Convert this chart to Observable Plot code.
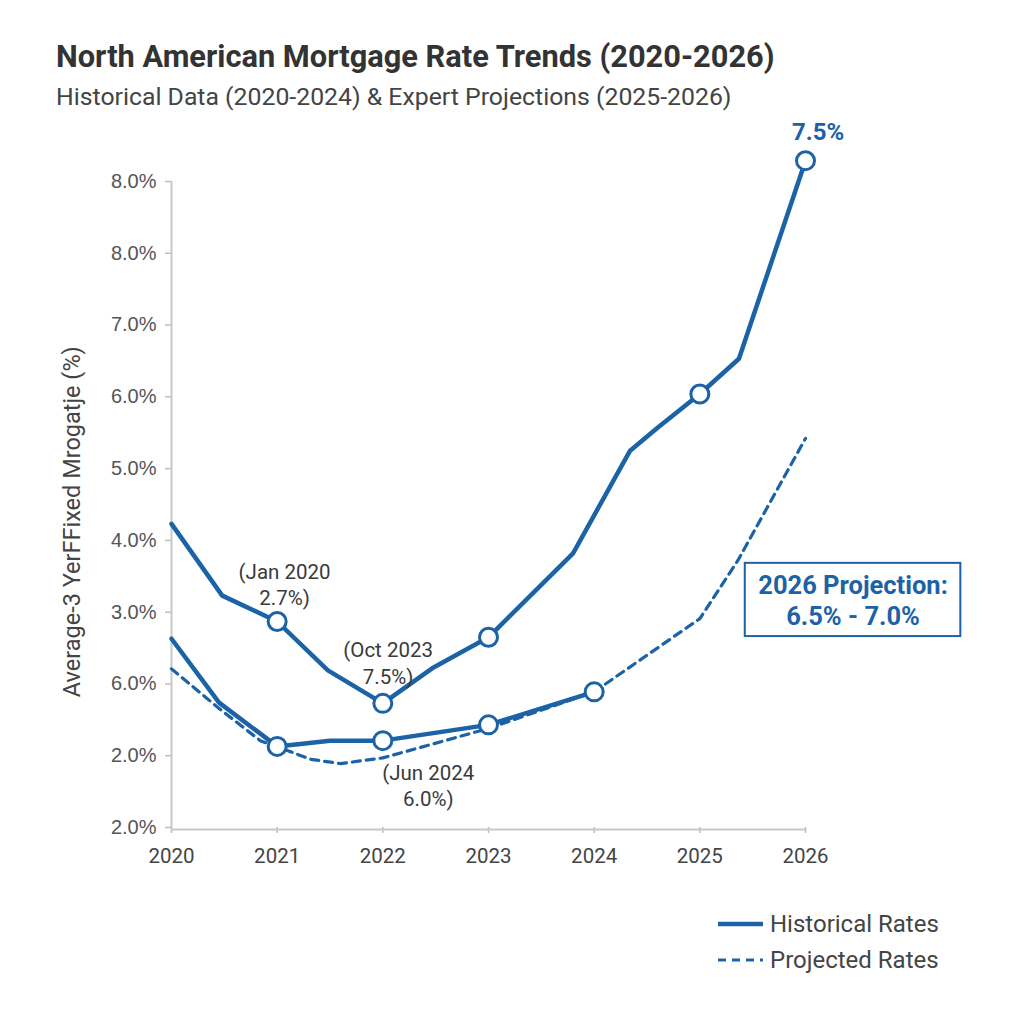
<!DOCTYPE html>
<html>
<head>
<meta charset="utf-8">
<script src="https://cdn.jsdelivr.net/npm/d3@7"></script>
<script src="https://cdn.jsdelivr.net/npm/@observablehq/plot@0.6"></script>
<style>
  html, body { margin: 0; padding: 0; background: #fff; }
  body { width: 1024px; height: 1024px; position: relative; overflow: hidden; font-family: Roboto, "Noto Sans", sans-serif; }
  #title { position: absolute; left: 56px; top: 42px; font-size: 30.8px; line-height: 1; font-weight: 700; color: #333; white-space: nowrap; }
  #subtitle { position: absolute; left: 56px; top: 85px; font-size: 24.8px; line-height: 1; color: #444; white-space: nowrap; }
  #chart { position: absolute; left: 0; top: 120px; }
  #legend { position: absolute; left: 716px; top: 906px; font-size: 24px; color: #444; }
  #legend .row { display: flex; align-items: center; height: 36px; }
  #legend svg { margin-right: 6px; }
</style>
</head>
<body>
<div id="title">North American Mortgage Rate Trends (2020-2026)</div>
<div id="subtitle">Historical Data (2020-2024) &amp; Expert Projections (2025-2026)</div>
<div id="chart"></div>
<div id="legend"></div>
<script>
// Axis ticks and their printed labels (bottom to top)
const years = [2020, 2021, 2022, 2023, 2024, 2025, 2026];
const yTicks = [0, 1, 2, 3, 4, 5, 6, 7, 8, 9];
const yLabels = ["2.0%", "2.0%", "6.0%", "3.0%", "4.0%", "5.0%", "6.0%", "7.0%", "8.0%", "8.0%"];

// Upper solid series
const upperYears = [2020, 2020.48, 2021, 2021.48, 2022, 2022.48, 2023, 2023.8, 2024.34, 2024.6, 2025, 2025.37, 2026];
const upperRates = [4.23, 3.23, 2.87, 2.19, 1.73, 2.23, 2.65, 3.82, 5.25, 5.57, 6.04, 6.53, 9.29];
const upperMarked = [2021, 2022, 2023, 2025, 2026];

// Lower solid series
const lowerYears = [2020, 2020.45, 2021, 2021.5, 2022, 2023, 2024];
const lowerRates = [2.63, 1.74, 1.13, 1.21, 1.21, 1.43, 1.89];
const lowerMarked = [2021, 2022, 2023, 2024];

// Projected (dashed) series
const projYears = [2020, 2020.44, 2020.84, 2021.32, 2021.6, 2022, 2023, 2024, 2025, 2025.36, 2026];
const projRates = [2.21, 1.67, 1.21, 0.95, 0.89, 0.97, 1.38, 1.89, 2.91, 3.72, 5.42];

// Callouts
const noteText = ["(Jan 2020\n2.7%)", "(Oct 2023\n7.5%)", "(Jun 2024\n6.0%)"];
const noteYears = [2021.07, 2022.05, 2022.43];
const noteRates = [3.40, 2.31, 0.60];

const peakLabel = "7.5%";
const peakYear = 2026.12;
const peakRate = 9.69;

const boxText = "2026 Projection:\n6.5% - 7.0%";
const boxYears = [2025.43, 2027.47];
const boxRates = [2.66, 3.68];

const axisTitle = "Average-3 YerFFixed Mrogatje (%)";

const blue = "#1c62a6";

const upper = upperYears.map((x, i) => ({x, y: upperRates[i]}));
const lower = lowerYears.map((x, i) => ({x, y: lowerRates[i]}));
const proj = projYears.map((x, i) => ({x, y: projRates[i]}));
const dots = [
  ...upper.filter(d => upperMarked.includes(d.x)),
  ...lower.filter(d => lowerMarked.includes(d.x))
];
const notes = noteText.map((t, i) => ({t, x: noteYears[i], y: noteRates[i]}));

const chart = Plot.plot({
  width: 1024,
  height: 760,
  marginTop: 61,
  marginBottom: 53,
  marginLeft: 171,
  marginRight: 219,
  x: {domain: [2020, 2026]},
  y: {domain: [0, 9]},
  style: {fontFamily: "Roboto, sans-serif", background: "transparent", overflow: "visible"},
  marks: [
    // tick marks only
    Plot.axisY(yTicks, {tickSize: 6, tickFormat: () => "", color: "#bdbdbd", strokeWidth: 1.5, label: null}),
    Plot.axisX(years, {tickSize: 6, tickFormat: () => "", color: "#bdbdbd", strokeWidth: 1.5, label: null}),
    // tick labels only
    Plot.axisY(yTicks, {tickSize: 0, tickPadding: 15, tickFormat: i => yLabels[i], color: "#555",
      fontSize: 20, fontFamily: "Liberation Sans, Arial, sans-serif", label: null}),
    Plot.axisX(years, {tickSize: 0, tickPadding: 21, tickFormat: d => String(d), color: "#444",
      fontSize: 20.5, label: null}),
    Plot.ruleX([2020], {y1: 0, y2: 9, stroke: "#c8c8c8", strokeWidth: 2}),
    Plot.ruleY([0], {x1: 2020, x2: 2026, stroke: "#c8c8c8", strokeWidth: 2, dy: 2}),
    Plot.text([axisTitle], {x: 2020, y: 4.26, text: d => d, rotate: -90, dx: -99,
      fontSize: 23.5, fill: "#444", fontFamily: "Roboto, sans-serif"}),
    Plot.line(proj, {x: "x", y: "y", stroke: blue, strokeWidth: 3.2, strokeDasharray: "8,6"}),
    Plot.line(lower, {x: "x", y: "y", stroke: blue, strokeWidth: 4.5, strokeLinejoin: "round"}),
    Plot.line(upper, {x: "x", y: "y", stroke: blue, strokeWidth: 4.5, strokeLinejoin: "round"}),
    Plot.dot(dots, {x: "x", y: "y", r: 9, fill: "white", stroke: blue, strokeWidth: 3}),
    Plot.text(notes, {x: "x", y: "y", text: "t", fontSize: 20.5, fill: "#3a3a3a", lineHeight: 1.3}),
    Plot.text([peakLabel], {x: peakYear, y: peakRate, text: d => d, fontSize: 24, fontWeight: 700, fill: blue}),
    Plot.rect([0], {x1: boxYears[0], x2: boxYears[1], y1: boxRates[0], y2: boxRates[1],
      fill: "white", stroke: blue, strokeWidth: 2}),
    Plot.text([boxText], {x: (boxYears[0] + boxYears[1]) / 2, y: (boxRates[0] + boxRates[1]) / 2,
      text: d => d, fontSize: 25.5, fontWeight: 700, fill: blue, lineHeight: 1.2})
  ]
});
document.getElementById("chart").append(chart);

// Legend rows
const legendItems = [
  {label: "Historical Rates", dash: null, width: 4.5},
  {label: "Projected Rates", dash: "8,6", width: 3.2}
];
const legend = d3.select("#legend");
for (const item of legendItems) {
  const row = legend.append("div").attr("class", "row");
  const s = row.append("svg").attr("width", 48).attr("height", 12);
  s.append("line").attr("x1", 2).attr("x2", 47).attr("y1", 6).attr("y2", 6)
    .attr("stroke", blue).attr("stroke-width", item.width)
    .attr("stroke-dasharray", item.dash);
  row.append("span").text(item.label);
}
</script>
</body>
</html>
